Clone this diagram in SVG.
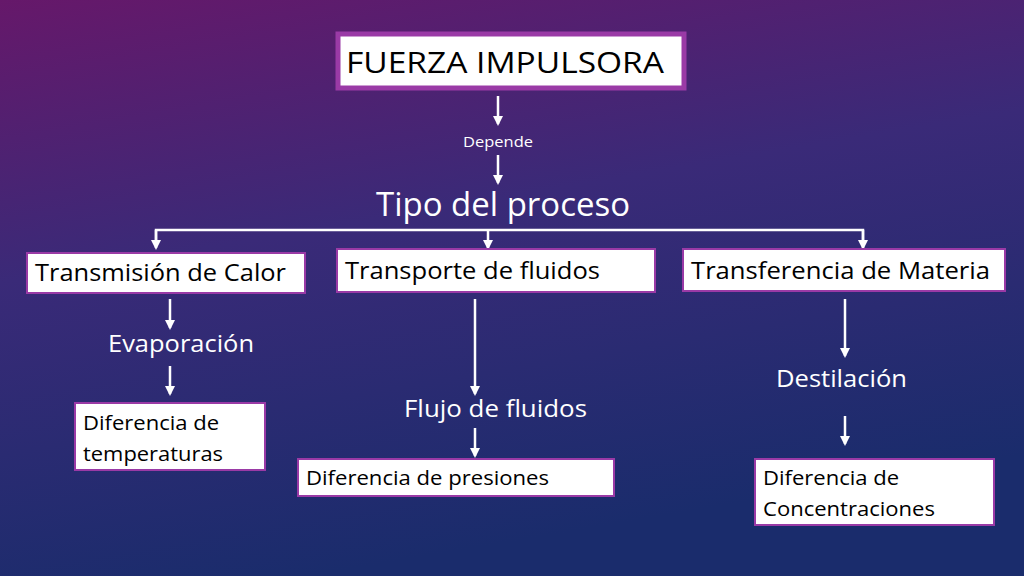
<svg xmlns="http://www.w3.org/2000/svg" width="1024" height="576" viewBox="0 0 1024 576">
<defs>
<linearGradient id="bg" x1="0" y1="0" x2="0.3" y2="1">
<stop offset="0" stop-color="#66186a"/>
<stop offset="0.45" stop-color="#3a2a78"/>
<stop offset="1" stop-color="#1a2c6c"/>
</linearGradient>
<marker id="ah" viewBox="0 0 10 10" refX="8" refY="5" markerWidth="4" markerHeight="4" orient="auto">
<path d="M0,0 L10,5 L0,10 z" fill="#fff"/>
</marker>
<style>
.box{fill:#fff;stroke:#9a3aa6;stroke-width:2}
.bt{font-family:"Open Sans","Liberation Sans",sans-serif;fill:#000}
.wt{font-family:"Open Sans","Liberation Sans",sans-serif;fill:#fff}
.c{stroke:#fff;stroke-width:2.5;fill:none}
.a{stroke:#fff;stroke-width:2.5;fill:none;marker-end:url(#ah)}
</style>
</defs>
<rect width="1024" height="576" fill="url(#bg)"/>
<g id="connectors">
<line class="a" x1="498" y1="96" x2="498" y2="124"/>
<line class="a" x1="498" y1="155" x2="498" y2="183"/>
<polyline class="c" points="156,246 156,230 863,230 863,246"/>
<line class="a" x1="156" y1="230" x2="156" y2="248"/>
<line class="a" x1="488" y1="230" x2="488" y2="248"/>
<line class="a" x1="863" y1="230" x2="863" y2="248"/>
<line class="a" x1="170" y1="299" x2="170" y2="328"/>
<line class="a" x1="170" y1="366" x2="170" y2="394"/>
<line class="a" x1="475" y1="299" x2="475" y2="394"/>
<line class="a" x1="475" y1="428" x2="475" y2="456"/>
<line class="a" x1="845" y1="299" x2="845" y2="356"/>
<line class="a" x1="845" y1="416" x2="845" y2="444"/>
</g>
<g id="n-fuerza"><rect x="338" y="34" width="346" height="54" fill="#fff" stroke="#9a3aa6" stroke-width="5"/><text class="bt" x="346" y="73" font-size="30" textLength="318" lengthAdjust="spacingAndGlyphs">FUERZA IMPULSORA</text></g>
<g id="l-depende"><text class="wt" x="463" y="147" font-size="15" textLength="70" lengthAdjust="spacingAndGlyphs">Depende</text></g>
<g id="n-tipo"><text class="wt" x="376" y="216" font-size="32" textLength="254" lengthAdjust="spacingAndGlyphs">Tipo del proceso</text></g>
<g id="n-calor"><rect class="box" x="27" y="253" width="278" height="40"/><text class="bt" x="35" y="281" font-size="23" textLength="251" lengthAdjust="spacingAndGlyphs">Transmisión de Calor</text></g>
<g id="n-fluidos"><rect class="box" x="337" y="249" width="318" height="43"/><text class="bt" x="345" y="279" font-size="23" textLength="255" lengthAdjust="spacingAndGlyphs">Transporte de fluidos</text></g>
<g id="n-materia"><rect class="box" x="683" y="249" width="322" height="42"/><text class="bt" x="691" y="279" font-size="23" textLength="299" lengthAdjust="spacingAndGlyphs">Transferencia de Materia</text></g>
<g id="n-evap"><text class="wt" x="108" y="352" font-size="24" textLength="146" lengthAdjust="spacingAndGlyphs">Evaporación</text></g>
<g id="n-flujo"><text class="wt" x="404" y="417" font-size="24" textLength="183" lengthAdjust="spacingAndGlyphs">Flujo de fluidos</text></g>
<g id="n-dest"><text class="wt" x="776" y="387" font-size="24" textLength="131" lengthAdjust="spacingAndGlyphs">Destilación</text></g>
<g id="n-temp"><rect class="box" x="75" y="403" width="190" height="67"/><text class="bt" x="83" y="430" font-size="20" textLength="136" lengthAdjust="spacingAndGlyphs">Diferencia de</text><text class="bt" x="83" y="461" font-size="20" textLength="140" lengthAdjust="spacingAndGlyphs">temperaturas</text></g>
<g id="n-pres"><rect class="box" x="298" y="459" width="316" height="37"/><text class="bt" x="306" y="485" font-size="20" textLength="243" lengthAdjust="spacingAndGlyphs">Diferencia de presiones</text></g>
<g id="n-conc"><rect class="box" x="755" y="459" width="239" height="66"/><text class="bt" x="763" y="485" font-size="20" textLength="136" lengthAdjust="spacingAndGlyphs">Diferencia de</text><text class="bt" x="763" y="516" font-size="20" textLength="172" lengthAdjust="spacingAndGlyphs">Concentraciones</text></g>
</svg>
